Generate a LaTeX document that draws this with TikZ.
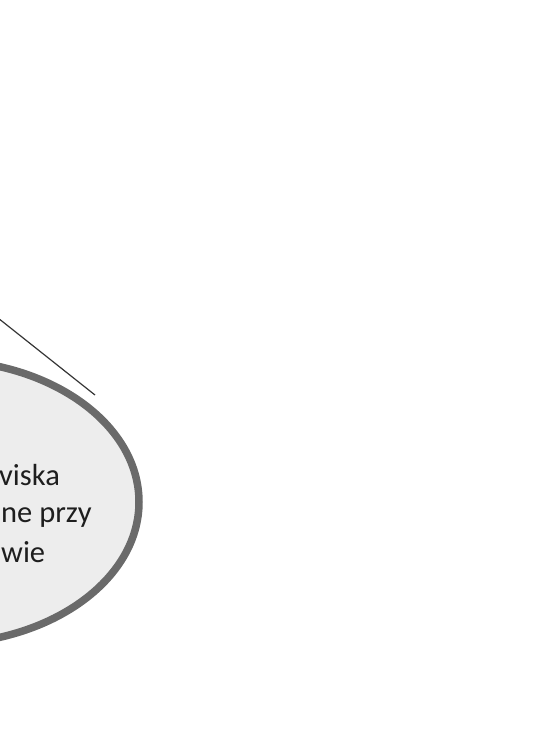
\documentclass[tikz,border=0pt]{standalone}
\usepackage{fontspec}
\setmainfont{Carlito}
\usepackage{xcolor}
\usepackage{tikz}
\usetikzlibrary{shapes.geometric}
\definecolor{rimgray}{HTML}{6A6A6A}
\definecolor{fillgray}{HTML}{EDEDED}
\definecolor{inkgray}{HTML}{1E1E1E}

\begin{document}
\begin{tikzpicture}[x=1pt,y=-1pt]
    \tikzstyle{bubble}=[ellipse, draw=rimgray, fill=fillgray, line width=7.5pt,
        minimum width=400pt, minimum height=284pt, inner sep=0pt]
\tikzstyle{words}=[anchor=base west, inner sep=0pt, text=inkgray,
        font=\fontsize{30.5}{38}\selectfont]
\useasboundingbox (0,0) rectangle (559,739);
\node[bubble] (cloud) at (-61,502) {};
\node[words] (lineA) at (-1,485) {viska};
\node[words] (lineB) at (1,522) {ne przy};
\node[words] (lineC) at (1,562) {wie};
\coordinate (tailA) at (-2,318);
\coordinate (tailB) at (95,395);
\draw[inkgray!90, line width=1.2pt] (tailA) -- (tailB);
\end{tikzpicture}
\end{document}
